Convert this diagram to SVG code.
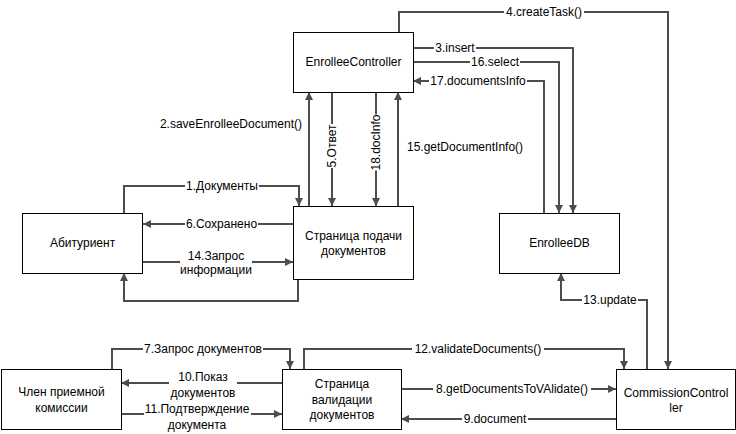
<svg xmlns="http://www.w3.org/2000/svg" width="736" height="434" viewBox="0 0 736 434">
<style>
.node rect{fill:#fff;stroke:#000;stroke-width:1}
.node text{font-family:"Liberation Sans",Arial,sans-serif;font-size:12px;fill:#000;text-anchor:middle}
.edge{fill:none;stroke:#4d4d4d;stroke-width:2}
.arr{marker-end:url(#ah)}
.lbl rect{fill:#fff;stroke:none}
.lbl text{font-family:"Liberation Sans",Arial,sans-serif;font-size:12px;fill:#000;text-anchor:middle}
</style>
<defs>
<marker id="ah" markerUnits="userSpaceOnUse" markerWidth="9" markerHeight="9" refX="8" refY="4" orient="auto">
<path d="M0,0 L8,4 L0,8 z" fill="#4d4d4d"/>
</marker>
</defs>
<rect width="736" height="434" fill="#fff"/>
<g id="connectors">
<path class="edge arr" d="M399,32 V12 H668 V369"/>
<path class="edge arr" d="M413,48 H573 V213"/>
<path class="edge arr" d="M413,62 H559 V213"/>
<path class="edge arr" d="M544,213 V81 H413"/>
<path class="edge arr" d="M309,206 V92"/>
<path class="edge arr" d="M332,92 V206"/>
<path class="edge arr" d="M376,92 V206"/>
<path class="edge arr" d="M398,206 V92"/>
<path class="edge arr" d="M124,213 V186 H299 V206"/>
<path class="edge arr" d="M293,224 H143"/>
<path class="edge arr" d="M143,262 H293"/>
<path class="edge arr" d="M298,279 V301 H124 V273"/>
<path class="edge arr" d="M112,369 V349 H290 V369"/>
<path class="edge arr" d="M282,383 H121"/>
<path class="edge arr" d="M121,414 H282"/>
<path class="edge arr" d="M304,369 V349 H624 V369"/>
<path class="edge arr" d="M401,389 H616"/>
<path class="edge arr" d="M616,419 H401"/>
<path class="edge arr" d="M647,369 V300 H561 V273"/>
<g class="lbl">
<rect x="504" y="5" width="80" height="14"/><text x="544" y="16">4.createTask()</text>
<rect x="434" y="41" width="42" height="14"/><text x="455" y="52">3.insert</text>
<rect x="470" y="55" width="50" height="14"/><text x="495" y="66">16.select</text>
<rect x="429" y="74" width="98" height="14"/><text x="478" y="85">17.documentsInfo</text>
<text x="302" y="128" style="text-anchor:end">2.saveEnrolleeDocument()</text>
<g transform="translate(332,146) rotate(-90)"><rect x="-22" y="-7" width="44" height="14"/><text x="0" y="4">5.Ответ</text></g>
<g transform="translate(376,142.5) rotate(-90)"><rect x="-28" y="-7" width="56" height="14"/><text x="0" y="4">18.docInfo</text></g>
<text x="407" y="151" style="text-anchor:start">15.getDocumentInfo()</text>
<rect x="185" y="179" width="74" height="14"/><text x="222" y="190">1.Документы</text>
<rect x="185" y="217" width="73" height="14"/><text x="221.5" y="228">6.Сохранено</text>
<rect x="180" y="248" width="72" height="30"/><text x="216" y="259.5">14.Запрос</text><text x="216" y="274">информации</text>
<rect x="143" y="342" width="120" height="14"/><text x="203" y="353">7.Запрос документов</text>
<rect x="169" y="370" width="68" height="30"/><text x="203" y="381">10.Показ</text><text x="203" y="396.5">документов</text>
<rect x="144" y="402" width="107" height="30"/><text x="197" y="413">11.Подтверждение</text><text x="197" y="428.5">документа</text>
<rect x="412" y="342" width="132" height="14"/><text x="478" y="353">12.validateDocuments()</text>
<rect x="433" y="382" width="158" height="14"/><text x="512" y="393">8.getDocumentsToVAlidate()</text>
<rect x="462" y="412" width="66" height="14"/><text x="495" y="423">9.document</text>
<rect x="582" y="293" width="56" height="14"/><text x="610" y="304">13.update</text>
</g>
</g>
<g id="enrollee-controller" class="node"><rect x="293.5" y="32.5" width="120" height="60"/><text x="353.5" y="66">EnrolleeController</text></g>
<g id="submission-page" class="node"><rect x="293.5" y="206.5" width="120" height="73"/><text x="353.5" y="240">Страница подачи</text><text x="353.5" y="255">документов</text></g>
<g id="applicant" class="node"><rect x="22.5" y="213.5" width="120" height="60"/><text x="82.5" y="247">Абитуриент</text></g>
<g id="enrollee-db" class="node"><rect x="499.5" y="213.5" width="120" height="60"/><text x="559.5" y="247">EnrolleeDB</text></g>
<g id="committee-member" class="node"><rect x="1.5" y="369.5" width="120" height="60"/><text x="61.5" y="396">Член приемной</text><text x="61.5" y="412">комиссии</text></g>
<g id="validation-page" class="node"><rect x="282.5" y="369.5" width="119" height="60"/><text x="342" y="388">Страница</text><text x="342" y="403.5">валидации</text><text x="342" y="419">документов</text></g>
<g id="commission-controller" class="node"><rect x="616.5" y="369.5" width="119" height="60"/><text x="676" y="397">CommissionControl</text><text x="676" y="411.5">ler</text></g>
</svg>
